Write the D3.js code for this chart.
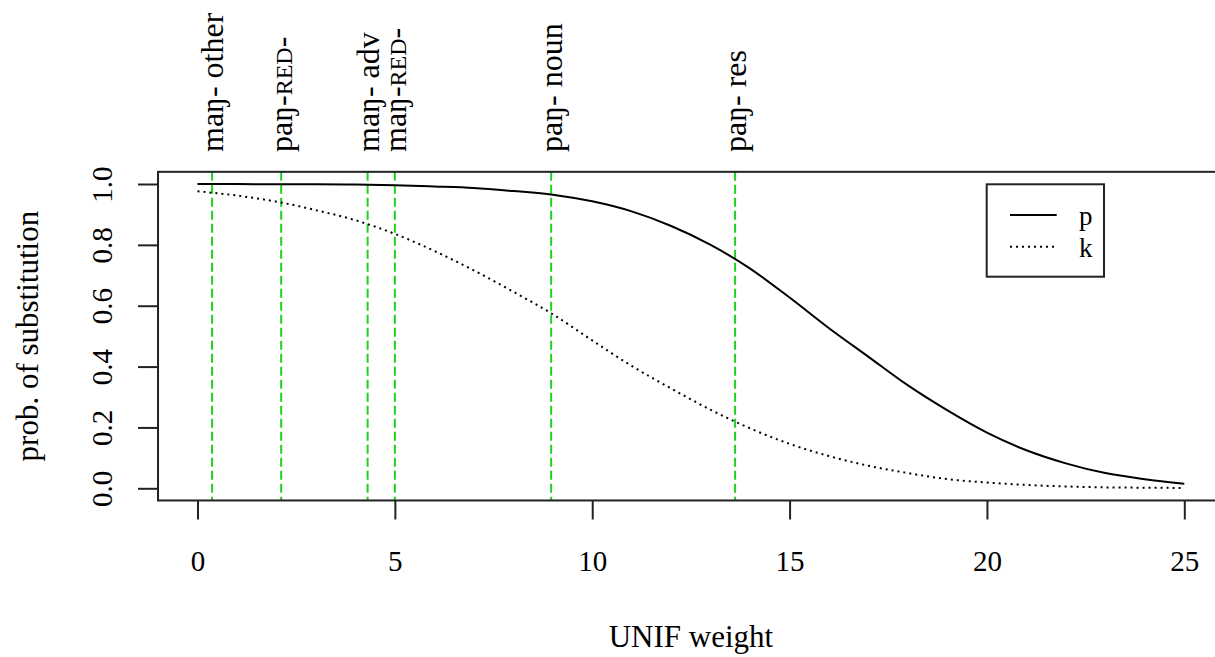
<!DOCTYPE html>
<html>
<head>
<meta charset="utf-8">
<script src="https://cdn.jsdelivr.net/npm/d3@7"></script>
<style>
  html, body { margin: 0; padding: 0; background: #fff; }
  svg { display: block; }
  text { font-family: "Liberation Serif", "Times New Roman", serif; fill: #000; }
</style>
</head>
<body>
<svg id="chart" width="1215" height="657"></svg>
<script>
// ---- data ----
const weights = [0,1,2,3,4,5,6,7,8,9,10,11,12,13,14,15,16,17,18,19,20,21,22,23,24,25];
const probP = [1.000,1.000,0.999,0.999,0.998,0.996,0.992,0.987,0.977,0.965,0.943,0.910,0.862,0.800,0.722,0.627,0.526,0.432,0.338,0.256,0.183,0.125,0.082,0.050,0.030,0.015];
const probK = [0.976,0.962,0.942,0.914,0.881,0.836,0.780,0.716,0.646,0.572,0.486,0.402,0.328,0.258,0.197,0.146,0.106,0.074,0.050,0.030,0.019,0.011,0.006,0.003,0.002,0.001];
const markerWeights = [0.37, 2.12, 4.31, 5.00, 8.96, 13.62];
const markerStems = ["maŋ- ", "paŋ-", "maŋ- ", "maŋ-", "paŋ- ", "paŋ- "];
const markerSmall = ["", "RED", "", "RED", "", ""];
const markerTails = ["other", "-", "adv", "-", "noun", "res"];
const xTicks = [0, 5, 10, 15, 20, 25];
const yTicks = [0.0, 0.2, 0.4, 0.6, 0.8, 1.0];
const seriesNames = ["p", "k"];
const xTitle = "UNIF weight";
const yTitle = "prob. of substitution";

// ---- scales ----
const svg = d3.select("#chart");
const x = d3.scaleLinear().domain([0, 25]).range([197.5, 1184.3]);
const y = d3.scaleLinear().domain([0, 1]).range([488.3, 184]);
const xPad = 1, yPad = 0.04;
const boxL = x(-xPad), boxR = x(25 + xPad), boxT = y(1 + yPad), boxB = y(-yPad);

// green marker lines
svg.append("g").selectAll("line").data(markerWeights).join("line")
  .attr("x1", d => x(d)).attr("x2", d => x(d))
  .attr("y1", boxT).attr("y2", boxB)
  .attr("stroke", "#1fd01f").attr("stroke-width", 2)
  .attr("stroke-dasharray", "9,4");

// curves
const line = d3.line().x((d, i) => x(weights[i])).y(d => y(d)).curve(d3.curveMonotoneX);
svg.append("path").datum(probP).attr("d", line)
  .attr("fill", "none").attr("stroke", "#000").attr("stroke-width", 2);
svg.append("path").datum(probK).attr("d", line)
  .attr("fill", "none").attr("stroke", "#000").attr("stroke-width", 2)
  .attr("stroke-dasharray", "2,4");

// box
svg.append("rect").attr("x", boxL).attr("y", boxT)
  .attr("width", boxR - boxL).attr("height", boxB - boxT)
  .attr("fill", "none").attr("stroke", "#222").attr("stroke-width", 2);

// x axis
const gx = svg.append("g").attr("transform", `translate(0,${boxB})`)
  .call(d3.axisBottom(x).tickValues(xTicks).tickSize(19).tickFormat(d3.format("d")));
gx.select(".domain").remove();
gx.selectAll(".tick line").attr("stroke", "#222").attr("stroke-width", 2);
gx.selectAll(".tick text").attr("y", 71).attr("dy", 0)
  .style("font-size", "29px").style("font-family", "'Liberation Serif', serif").attr("fill", "#000");

// y axis
const gy = svg.append("g").attr("transform", `translate(${boxL},0)`)
  .call(d3.axisLeft(y).tickValues(yTicks).tickSize(20).tickFormat(d3.format(".1f")));
gy.select(".domain").remove();
gy.selectAll(".tick line").attr("stroke", "#222").attr("stroke-width", 2);
gy.selectAll(".tick text").attr("x", 0).attr("y", 0).attr("dy", 0)
  .attr("text-anchor", "middle")
  .attr("transform", "translate(-46,0) rotate(-90)")
  .style("font-size", "29px").style("font-family", "'Liberation Serif', serif").attr("fill", "#000");

// axis titles
svg.append("text").attr("x", (boxL + boxR) / 2).attr("y", 647)
  .attr("text-anchor", "middle").style("font-size", "31px").text(xTitle);
svg.append("text").attr("transform", `translate(38,${(boxT + boxB) / 2}) rotate(-90)`)
  .attr("text-anchor", "middle").style("font-size", "31px").text(yTitle);

// top marker labels
const lab = svg.append("g").selectAll("text").data(markerWeights).join("text")
  .attr("transform", d => `translate(${x(d)},152) rotate(-90)`)
  .attr("dy", "0.35em").attr("text-anchor", "start").style("font-size", "32px");
lab.append("tspan").text((d, i) => markerStems[i]);
lab.append("tspan").style("font-size", "24px").text((d, i) => markerSmall[i]);
lab.append("tspan").text((d, i) => markerTails[i]);

// legend
const lg = svg.append("g");
lg.append("rect").attr("x", 986.7).attr("y", 184.3).attr("width", 117.3).attr("height", 92.4)
  .attr("fill", "#fff").attr("stroke", "#222").attr("stroke-width", 2);
const legY = [215, 246.7];
lg.selectAll("line").data(seriesNames).join("line")
  .attr("x1", 1010).attr("x2", 1056.7)
  .attr("y1", (d, i) => legY[i]).attr("y2", (d, i) => legY[i])
  .attr("stroke", "#000").attr("stroke-width", 2)
  .attr("stroke-dasharray", (d, i) => i === 1 ? "2,4" : null);
lg.selectAll("text").data(seriesNames).join("text")
  .attr("x", 1079).attr("y", (d, i) => legY[i] + 10)
  .style("font-size", "27px").text(d => d);
</script>
</body>
</html>
